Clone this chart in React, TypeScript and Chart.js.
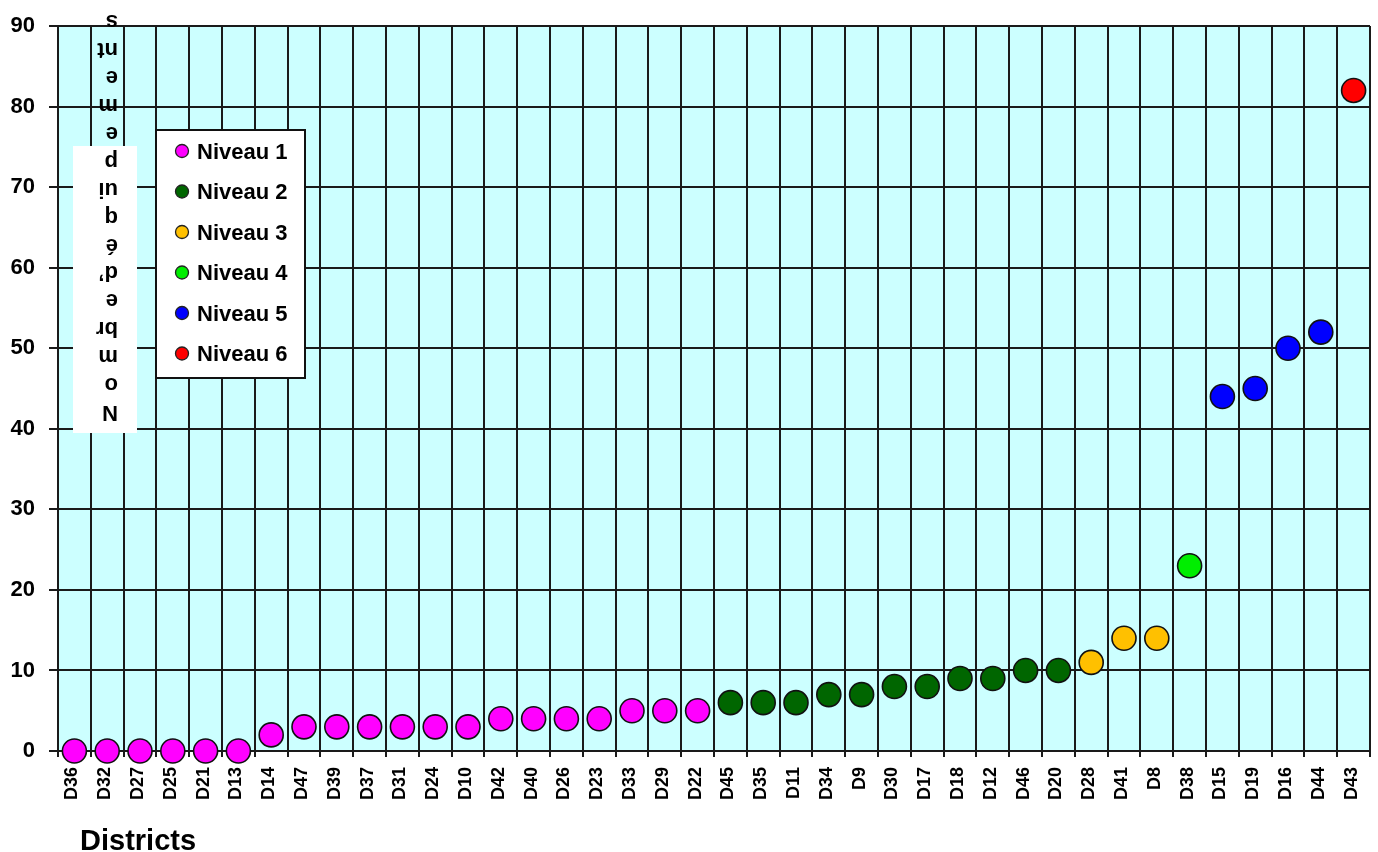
import React, { useEffect, useRef } from "react";
import { Chart, registerables } from "chart.js";

Chart.register(...registerables);

const districts = ["D36","D32","D27","D25","D21","D13","D14","D47","D39","D37","D31","D24","D10","D42","D40","D26","D23","D33","D29","D22","D45","D35","D11","D34","D9","D30","D17","D18","D12","D46","D20","D28","D41","D8","D38","D15","D19","D16","D44","D43"];
const equipements = [0,0,0,0,0,0,2,3,3,3,3,3,3,4,4,4,4,5,5,5,6,6,6,7,7,8,8,9,9,10,10,11,14,14,23,44,45,50,52,82];
const niveaux = [1,1,1,1,1,1,1,1,1,1,1,1,1,1,1,1,1,1,1,1,2,2,2,2,2,2,2,2,2,2,2,3,3,3,4,5,5,5,5,6];
const levelNames = ["Niveau 1","Niveau 2","Niveau 3","Niveau 4","Niveau 5","Niveau 6"];
const levelColors = ["#ff00ff","#006600","#ffc000","#00ee00","#0000ff","#ff0000"];
const yTickValues = [0,10,20,30,40,50,60,70,80,90];
const yTitle = "Nombre d’équipements";
const yTitleLines = ["N","o","m","br","e","d’","é","q","ui","p","e","m","e","nt","s"];
const xTitle = "Districts";

const FONT = '"Liberation Sans", Arial, sans-serif';

const decorPlugin = {
  id: "decor",
  beforeDraw(chart: any) {
    const { ctx, chartArea } = chart;
    const { left, top, right, bottom } = chartArea;
    ctx.save();
    ctx.fillStyle = "#ccffff";
    ctx.fillRect(left, top, right - left, bottom - top);
    ctx.restore();
  },
  afterDraw(chart: any) {
    const { ctx } = chart;
    ctx.save();
    // y-axis title box with stacked, upside-down letters
    ctx.fillStyle = "#ffffff";
    ctx.fillRect(73, 146, 64, 287);
    ctx.fillStyle = "#000";
    ctx.font = `bold 22px ${FONT}`;
    ctx.textAlign = "left";
    ctx.textBaseline = "middle";
    yTitleLines.forEach((ln, i) => {
      ctx.save();
      ctx.translate(118, 412 - i * 27.9);
      ctx.rotate(Math.PI);
      ctx.fillText(ln, 0, 0);
      ctx.restore();
    });

    // legend
    ctx.fillStyle = "#ffffff";
    ctx.fillRect(156, 130, 149, 248);
    ctx.strokeStyle = "#111";
    ctx.lineWidth = 2;
    ctx.strokeRect(156, 130, 149, 248);
    chart.data.datasets.forEach((ds: any, i: number) => {
      const cy = 151 + i * 40.5;
      ctx.beginPath();
      ctx.arc(182, cy, 6.5, 0, Math.PI * 2);
      ctx.fillStyle = ds.pointBackgroundColor;
      ctx.fill();
      ctx.lineWidth = 1.3;
      ctx.strokeStyle = "#222";
      ctx.stroke();
      ctx.fillStyle = "#000";
      ctx.font = `bold 22px ${FONT}`;
      ctx.textAlign = "left";
      ctx.textBaseline = "middle";
      ctx.fillText(ds.label, 197, cy + 1.5);
    });

    // x-axis title
    ctx.fillStyle = "#000";
    ctx.font = `bold 29px ${FONT}`;
    ctx.textAlign = "left";
    ctx.textBaseline = "alphabetic";
    ctx.fillText(xTitle, 80, 850);
    ctx.restore();
  },
};

export default function App() {
  const ref = useRef<HTMLCanvasElement | null>(null);
  useEffect(() => {
    document.body.style.margin = "0";
    const canvas = ref.current;
    if (!canvas) return;
    const datasets = levelNames.map((name, k) => ({
      label: name,
      data: equipements.map((v, i) => (niveaux[i] === k + 1 ? v : null)),
      showLine: false,
      clip: false,
      pointRadius: 12,
      pointHoverRadius: 12,
      pointBackgroundColor: levelColors[k],
      backgroundColor: levelColors[k],
      pointBorderColor: "#111",
      borderColor: "#111",
      pointBorderWidth: 1.6,
    }));
    const chart = new Chart(canvas, {
      type: "line",
      data: { labels: districts, datasets },
      options: {
        responsive: false,
        animation: false,
        events: [],
        layout: { autoPadding: false, padding: { top: 26, right: 8, left: 0, bottom: 0 } },
        plugins: {
          legend: { display: false },
          tooltip: { enabled: false },
          title: { display: false },
        },
        scales: {
          x: {
            type: "category",
            offset: true,
            grid: { offset: true, color: "#1a1a1a", lineWidth: 2, tickLength: 6 },
            border: { color: "#1a1a1a", width: 2 },
            ticks: {
              autoSkip: false,
              minRotation: 90,
              maxRotation: 90,
              padding: 10,
              labelOffset: -2,
              color: "#000",
              font: { family: FONT, size: 18, weight: "bold" },
            },
            afterFit: (s: any) => {
              s.height = 101;
              s.paddingLeft = 0;
              s.paddingRight = 0;
            },
          },
          y: {
            min: 0,
            max: 90,
            title: { display: false, text: yTitle },
            afterBuildTicks: (s: any) => { s.ticks = yTickValues.map((v) => ({ value: v })); },
            grid: { color: "#1a1a1a", lineWidth: 2, tickLength: 9 },
            border: { color: "#1a1a1a", width: 2 },
            ticks: {
              padding: 14,
              color: "#000",
              font: { family: FONT, size: 22, weight: "bold" },
            },
            afterFit: (s: any) => {
              s.width = 58;
              s.paddingTop = 0;
              s.paddingBottom = 0;
            },
          },
        },
      },
      plugins: [decorPlugin],
    } as any);
    return () => chart.destroy();
  }, []);
  return (
    <div style={{ width: 1378, height: 852 }}>
      <canvas ref={ref} width={1378} height={852} style={{ display: "block" }} />
    </div>
  );
}
